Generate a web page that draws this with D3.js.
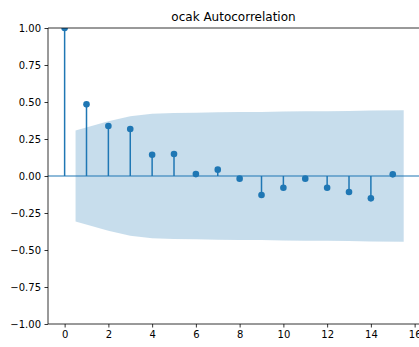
<!DOCTYPE html>
<html>
<head>
<meta charset="utf-8">
<script src="https://cdn.jsdelivr.net/npm/d3@7"></script>
<style>
  body { margin: 0; background: #fff; }
  text { font-family: "DejaVu Sans", sans-serif; fill: #000; }
</style>
</head>
<body>
<div id="acf_plot"></div>
<script>

// acf values, lag 0..15
var lags = [0, 1, 2, 3, 4, 5, 6, 7, 8, 9, 10, 11, 12, 13, 14, 15];
var acfValues = [1.0, 0.484, 0.338, 0.318, 0.144, 0.149, 0.013, 0.043, -0.018, -0.128, -0.079, -0.018, -0.079, -0.108, -0.151, 0.011];

// confidence band half width for lags 1..15 (band is drawn from 0.5 to 15.5)
var bandLags = [0.5, 2, 3, 4, 5, 6, 7, 8, 9, 10, 11, 12, 13, 14, 15.5];
var bandHalf = [0.307, 0.37, 0.403, 0.42, 0.425, 0.428, 0.43, 0.432, 0.433, 0.436, 0.437, 0.438, 0.44, 0.442, 0.444];

var yTicks = [-1, -0.75, -0.5, -0.25, 0, 0.25, 0.5, 0.75, 1];
var xTicks = [0, 2, 4, 6, 8, 10, 12, 14, 16];
var title = "ocak Autocorrelation";

var width = 419, height = 347;
var blue = "#1f77b4";

var svg = d3.select("#acf_plot").append("svg")
    .attr("width", width)
    .attr("height", height);

var x = d3.scaleLinear().domain([-0.76, 16.3]).range([48, 421.2]);
var y = d3.scaleLinear().domain([-1, 1]).range([324, 28]);

svg.append("clipPath").attr("id", "clip")
  .append("rect")
    .attr("x", x.range()[0]).attr("y", y(1))
    .attr("width", x.range()[1] - x.range()[0])
    .attr("height", y(-1) - y(1));

var plot = svg.append("g").attr("clip-path", "url(#clip)");

var band = bandLags.map(function(l, i) { return { lag: l, h: bandHalf[i] }; });

var area = d3.area()
    .x(function(d) { return x(d.lag); })
    .y0(function(d) { return y(-d.h); })
    .y1(function(d) { return y(d.h); });

plot.append("path")
    .datum(band)
    .attr("d", area)
    .attr("fill", blue)
    .attr("fill-opacity", 0.25);

plot.append("line")
    .attr("x1", x.range()[0]).attr("x2", x.range()[1])
    .attr("y1", y(0)).attr("y2", y(0))
    .attr("stroke", blue)
    .attr("stroke-width", 1.1);

var pts = lags.map(function(l, i) { return { lag: l, v: acfValues[i] }; });

plot.selectAll(".stem")
    .data(pts)
    .enter().append("line")
    .attr("class", "stem")
    .attr("x1", function(d) { return x(d.lag); })
    .attr("x2", function(d) { return x(d.lag); })
    .attr("y1", y(0))
    .attr("y2", function(d) { return y(d.v); })
    .attr("stroke", blue)
    .attr("stroke-width", 1.5);

plot.selectAll(".dot")
    .data(pts)
    .enter().append("circle")
    .attr("class", "dot")
    .attr("cx", function(d) { return x(d.lag); })
    .attr("cy", function(d) { return y(d.v); })
    .attr("r", 3.3)
    .attr("fill", blue);

// axes
var yAxis = d3.axisLeft(y).tickValues(yTicks).tickFormat(d3.format(".2f"))
    .tickSize(3.5).tickPadding(3.5);
var xAxis = d3.axisBottom(x).tickValues(xTicks).tickFormat(d3.format("d"))
    .tickSize(3.5).tickPadding(3.5);

var gy = svg.append("g").attr("transform", "translate(" + x.range()[0] + ",0)").call(yAxis);
var gx = svg.append("g").attr("transform", "translate(0," + y(-1) + ")").call(xAxis);

[gx, gy].forEach(function(g) {
    g.selectAll("text").style("font-size", "10px").style("font-family", "DejaVu Sans");
    g.selectAll("line").attr("stroke", "#000").attr("stroke-width", 0.8);
    g.select(".domain").remove();
});

// spines
svg.append("line")
    .attr("x1", x.range()[0]).attr("x2", x.range()[0])
    .attr("y1", y(1)).attr("y2", y(-1))
    .attr("stroke", "#000").attr("stroke-width", 0.8);
svg.append("line")
    .attr("x1", x.range()[0]).attr("x2", x.range()[1])
    .attr("y1", y(-1)).attr("y2", y(-1))
    .attr("stroke", "#000").attr("stroke-width", 0.8);
svg.append("line")
    .attr("x1", x.range()[0]).attr("x2", x.range()[1])
    .attr("y1", y(1)).attr("y2", y(1))
    .attr("stroke", "#000").attr("stroke-width", 0.8);

svg.append("text")
    .attr("x", (x.range()[0] + 419) / 2)
    .attr("y", 21)
    .attr("text-anchor", "middle")
    .style("font-size", "12px")
    .text(title);

</script>
</body>
</html>
